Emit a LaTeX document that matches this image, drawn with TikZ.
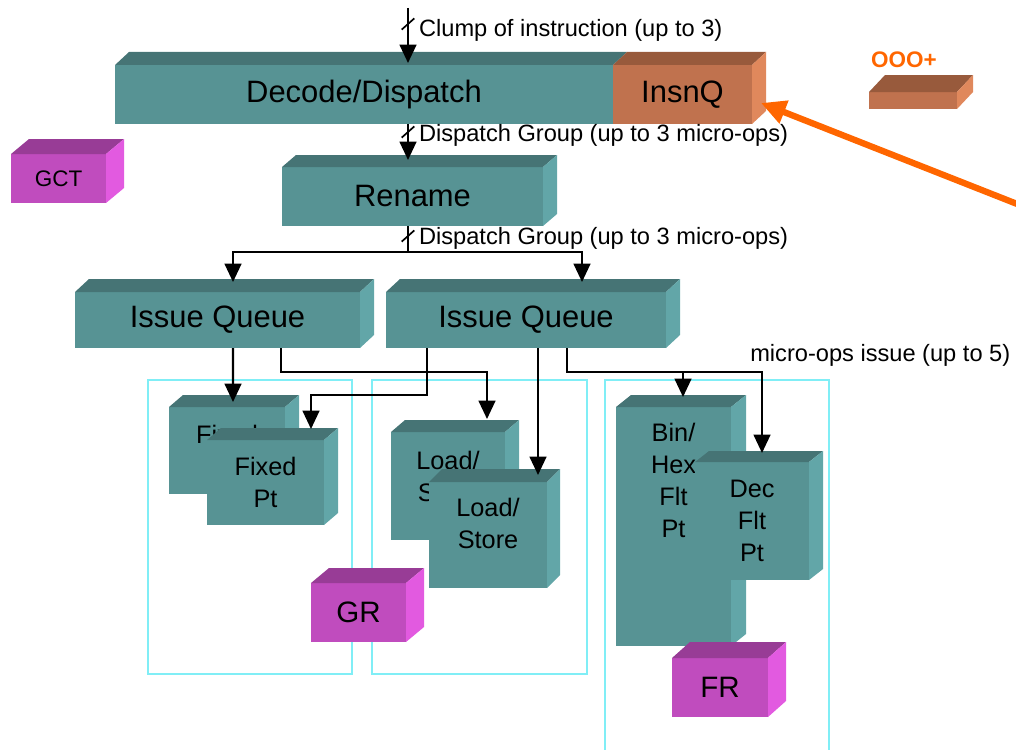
\documentclass[tikz,border=0pt]{standalone}
\usepackage{fontspec}
\setmainfont{Liberation Sans}
\usetikzlibrary{arrows.meta, calc, decorations.markings}
\definecolor{tealfront}{HTML}{579394}
\definecolor{tealtop}{HTML}{467475}
\definecolor{tealside}{HTML}{62A6A8}
\definecolor{qfront}{HTML}{C0724E}
\definecolor{qtop}{HTML}{985A3C}
\definecolor{qside}{HTML}{E0885C}
\definecolor{regfront}{HTML}{C04CBE}
\definecolor{regtop}{HTML}{983C96}
\definecolor{regside}{HTML}{E25AE0}
\definecolor{oooorange}{HTML}{FF6600}
\definecolor{clustercyan}{HTML}{80EEF6}
\tikzset{
  wh/.style 2 args = {minimum width=#1*0.025cm, minimum height=#2*0.025cm},
  face/.style      = {anchor=north west, inner sep=0pt, outer sep=0pt, align=center},
  stage/.style     = {face, fill=tealfront, font=\fontsize{22}{26}\selectfont},
  fu/.style        = {face, fill=tealfront, font=\fontsize{18}{22.7}\selectfont},
  futext/.style    = {inner sep=0pt, align=center, font=\fontsize{18}{22.7}\selectfont},
  reg/.style       = {face, fill=regfront, font=\fontsize{21}{25}\selectfont},
  lbl/.style       = {anchor=west, inner sep=0pt, font=\fontsize{16.8}{20}\selectfont},
  cluster/.style   = {draw=clustercyan, line width=1.5pt},
  flow/.style      = {-{Triangle[length=0.46cm, width=0.42cm]}, line width=1.5pt},
  bus/.style       = {postaction={decorate, decoration={markings,
                      mark=at position #1 with {\draw[-, line width=1.2pt] (-4pt,4.5pt) -- (4pt,-4.5pt);}}}},
  ooo/.style       = {-{Triangle[length=0.62cm, width=0.58cm]}, line width=4.5pt, oooorange},
}
\newcommand{\topface}[3]{\fill[#3] (#1.north west) -- ++(#2) -- ($(#1.north east)+(#2)$) -- (#1.north east) -- cycle;}
\newcommand{\sideface}[3]{\fill[#3] (#1.north east) -- ++(#2) -- ($(#1.south east)+(#2)$) -- (#1.south east) -- cycle;}

\begin{document}
\begin{tikzpicture}[x=0.025cm, y=-0.025cm]
  \useasboundingbox (0,0) rectangle (1016,749);
  % --- clusters -----------------------------------------------------
  \draw[cluster] (148,380) rectangle (352,674);
  \draw[cluster] (372,380) rectangle (587,674);
  \draw[cluster] (605,380) rectangle (829,770);
  % --- front end ----------------------------------------------------
  \node[stage, wh={498}{59}] (dec) at (115,65) {Decode/Dispatch};
  \topface{dec}{14,-13}{tealtop}
  \node[stage, fill=qfront, wh={139}{59}] (insnq) at (613,65) {InsnQ};
  \topface{insnq}{14,-13}{qtop}
  \sideface{insnq}{14,-13}{qside}
  \node[reg, font=\fontsize{16}{19}\selectfont, wh={95}{49}] (gct) at (11,154) {GCT};
  \topface{gct}{18,-15}{regtop}
  \sideface{gct}{18,-15}{regside}
  \node[font=\bfseries\fontsize{16}{19}\selectfont, text=oooorange, inner sep=0pt] (ooolbl) at (904,60) {OOO+};
  \node[face, fill=qfront, wh={88}{17}] (ooo) at (869,92) {};
  \topface{ooo}{16,-17}{qtop}
  \sideface{ooo}{16,-17}{qside}
  \node[stage, wh={261}{59}] (ren) at (282,167) {Rename};
  \topface{ren}{14,-12}{tealtop}
  \sideface{ren}{14,-12}{tealside}
  \node[stage, wh={285}{56}] (iq1) at (75,292) {Issue Queue};
  \topface{iq1}{14,-13}{tealtop}
  \sideface{iq1}{14,-13}{tealside}
  \node[stage, wh={280}{56}] (iq2) at (386,292) {Issue Queue};
  \topface{iq2}{14,-13}{tealtop}
  \sideface{iq2}{14,-13}{tealside}
  % --- execution units ----------------------------------------------
  \node[fu, wh={116}{87}] (fxA) at (169,407) {Fixed\\Pt};
  \topface{fxA}{14,-12}{tealtop}
  \sideface{fxA}{14,-12}{tealside}
  \node[fu, wh={117}{85}] (fxB) at (207,440) {Fixed\\Pt};
  \topface{fxB}{14,-12}{tealtop}
  \sideface{fxB}{14,-12}{tealside}
  \node[fu, wh={114}{108}, label={[futext, anchor=center, yshift=0.25cm]center:{Load/\\Store}}] (lsA) at (391,432) {};
  \topface{lsA}{14,-12}{tealtop}
  \sideface{lsA}{14,-12}{tealside}
  \node[fu, wh={118}{106}, label={[futext, anchor=center, yshift=0.28cm]center:{Load/\\Store}}] (lsB) at (429,482) {};
  \topface{lsB}{13,-13}{tealtop}
  \sideface{lsB}{13,-13}{tealside}
  \node[fu, wh={115}{239}, label={[futext, anchor=north, yshift=-0.4cm]north:{Bin/\\Hex\\Flt\\Pt}}] (bin) at (616,407) {};
  \topface{bin}{15,-12}{tealtop}
  \sideface{bin}{15,-12}{tealside}
  \node[fu, wh={114}{118}] (dfp) at (695,462) {Dec\\Flt\\Pt};
  \topface{dfp}{14,-11}{tealtop}
  \sideface{dfp}{14,-11}{tealside}
  % --- registers ----------------------------------------------------
  \node[reg, wh={95}{59}] (gr) at (311,583) {GR};
  \topface{gr}{18,-15}{regtop}
  \sideface{gr}{18,-15}{regside}
  \node[reg, wh={96}{59}] (fr) at (672,658) {FR};
  \topface{fr}{18,-16}{regtop}
  \sideface{fr}{18,-16}{regside}
  % --- dispatch -----------------------------------------------------
  \coordinate (clump) at (408,8);
  \draw[flow, bus=0.4cm] (clump) -- node[lbl, pos=0.4, xshift=0.25cm] {Clump of instruction (up to 3)} ($(dec.north)+(44,-2)$);
  \draw[flow, bus=0.2cm] ($(dec.south)+(44,0)$) -- node[lbl, pos=0.31, xshift=0.25cm] {Dispatch Group (up to 3 micro-ops)} ($(ren.north)+(-4.5,-7)$);
  \draw[flow, bus=0.25cm] ($(ren.south)+(-4.5,0)$) -- node[lbl, pos=0.46, xshift=0.25cm] {Dispatch Group (up to 3 micro-ops)} ++(0,26) -| ($(iq2.north)+(56,-10)$);
  \draw[flow] ($(ren.south)+(-4.5,26)$) -| ($(iq1.north)+(15.5,-10)$);
  % --- issue --------------------------------------------------------
  \draw[flow] ($(iq1.south)+(15.5,0)$) -- ($(fxA.north)+(6,-5)$);
  \draw[flow] ($(iq1.south)+(63.5,0)$) -- ++(0,24) -| ($(lsA.north)+(39,-13)$);
  \draw[flow] ($(iq2.south)+(-99,0)$) -- ++(0,47) -| ($(fxB.north)+(45.5,-11)$);
  \draw[flow] ($(iq2.south)+(12,0)$) -- ($(lsB.north)+(50,-7)$);
  \draw[flow] ($(iq2.south)+(41,0)$) -- ++(0,24) -| ($(dfp.north)+(10,-9)$);
  \draw[flow] ($(iq2.south)+(41,24)$) -| ($(bin.north)+(9.5,-10)$);
  \node[lbl] (issuelbl) at (750,355) {micro-ops issue (up to 5)};
  % --- OOO+ ---------------------------------------------------------
  \coordinate (ooosrc) at (1040,213);
  \draw[ooo] (ooosrc) -- ($(insnq.east)+(9,8.5)$);
\end{tikzpicture}
\end{document}
